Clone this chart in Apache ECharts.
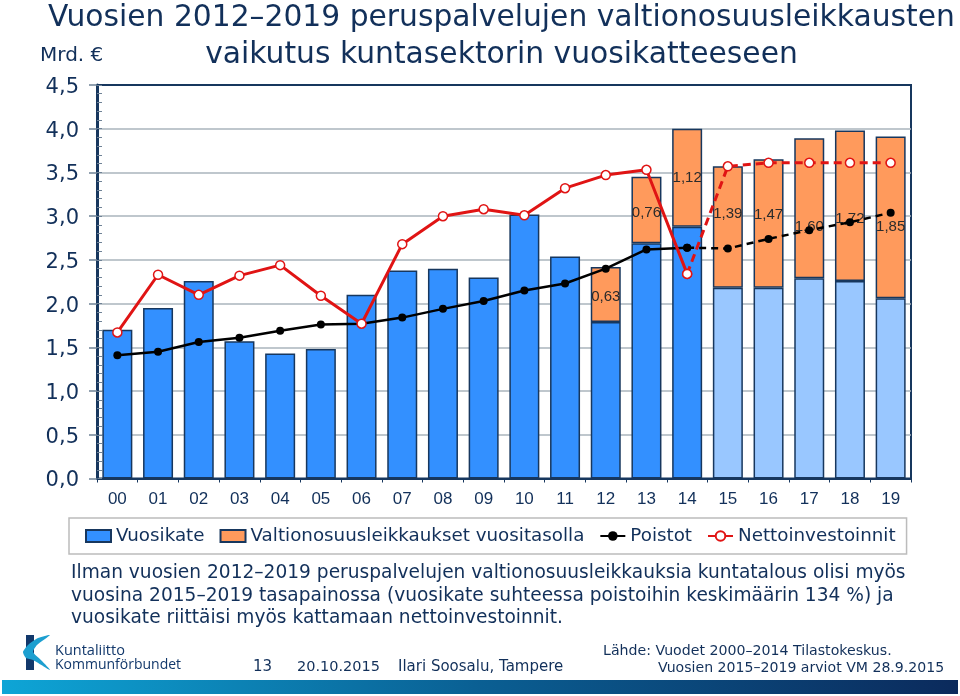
<!DOCTYPE html>
<html>
<head lang="fi">
    <meta charset="UTF-8">
    <title>Vuosikate ja valtionosuusleikkaukset</title>
    <style>
        html, body { margin: 0; padding: 0; background: #fff; }
        #main { width: 960px; height: 696px; }
    </style>
</head>
<body>
<div id="main"></div>
<script src="https://cdn.jsdelivr.net/npm/echarts@6/dist/echarts.min.js"></script>
<script>
    var years = ['00','01','02','03','04','05','06','07','08','09','10','11','12','13','14','15','16','17','18','19'];
    var vuosikate = [1.70,1.95,2.26,1.57,1.43,1.48,2.10,2.38,2.40,2.30,3.02,2.54,1.79,2.69,2.88,2.18,2.18,2.29,2.26,2.06];
    var leikkaukset = [null,null,null,null,null,null,null,null,null,null,null,null,0.63,0.76,1.12,1.39,1.47,1.60,1.72,1.85];
    var poistot = [1.41,1.45,1.56,1.61,1.69,1.76,1.77,1.84,1.94,2.03,2.15,2.23,2.40,2.62,2.64,2.63,2.74,2.84,2.93,3.04];
    var netto = [1.67,2.33,2.10,2.32,2.44,2.09,1.77,2.68,3.00,3.08,3.01,3.32,3.47,3.53,2.34,3.57,3.61,3.61,3.61,3.61];
    var lastActual = 14;

    // labels do not sit in the middle of the bars in the original, nudged by hand (px)
    var labelNudge = {12: 2, 13: 3, 15: -13, 16: -9, 17: 19, 18: 13, 19: 9};

    var navy = '#17375e';
    var textBlue = '#12305a';
    var verdana = '"DejaVu Sans", Verdana, sans-serif';
    var arial = '"Liberation Sans", Arial, sans-serif';

    function comma(v) { return v.toFixed(2).replace('.', ','); }
    function upto(arr) { return arr.map(function (v, i) { return i <= lastActual ? v : null; }); }
    function from(arr) { return arr.map(function (v, i) { return i >= lastActual ? v : null; }); }

    function txt(text, x, y, size, align, color, family) {
        return {
            type: 'text', silent: true,
            style: {
                text: text, x: x, y: y, fontSize: size, fontFamily: family || verdana,
                fill: color || textBlue, textAlign: align || 'left', textVerticalAlign: 'middle'
            }
        };
    }

    var myChart = echarts.init(document.getElementById('main'), null, {renderer: 'canvas'});

    var option = {
        animation: false,
        backgroundColor: '#fff',
        grid: {left: 97, top: 85, width: 814, height: 393.5, show: true, borderColor: navy, borderWidth: 2, backgroundColor: 'transparent'},
        legend: {
            data: [
                {name: 'Vuosikate', icon: 'rect'},
                {name: 'Valtionosuusleikkaukset vuositasolla', icon: 'rect'},
                {name: 'Poistot'},
                {name: 'Nettoinvestoinnit'}
            ],
            left: 69, top: 518,
            padding: [9, 11, 9, 16],
            borderColor: '#bcbcbc', borderWidth: 1.5,
            itemGap: 15, itemWidth: 25, itemHeight: 12,
            textStyle: {fontFamily: verdana, fontSize: 18.3, color: textBlue}
        },
        xAxis: {
            type: 'category', data: years,
            axisLine: {lineStyle: {color: navy, width: 2}},
            axisTick: {show: true, length: 4, lineStyle: {color: navy}},
            axisLabel: {fontFamily: arial, fontSize: 17, color: textBlue, margin: 12},
            splitLine: {show: false}
        },
        yAxis: [{
            type: 'value', min: 0, max: 4.5, interval: 0.5,
            axisLine: {show: true, lineStyle: {color: navy, width: 3}},
            axisTick: {show: true, length: 8, lineStyle: {color: '#6f8296', width: 1.5}},
            axisLabel: {
                fontFamily: verdana, fontSize: 21, color: textBlue, margin: 18,
                verticalAlign: 'top', lineHeight: 5,
                formatter: function (v) { return v.toFixed(1).replace('.', ','); }
            },
            splitLine: {show: true, showMinLine: false, showMaxLine: false, lineStyle: {color: '#aab4bd', width: 1.5}}
        }, {
            // only for the small inside ticks along the left edge
            type: 'value', min: 0, max: 4.5, interval: 0.1, position: 'left',
            axisLine: {show: false},
            axisTick: {show: true, inside: true, length: 5, lineStyle: {color: '#6f8296', width: 1}},
            axisLabel: {show: false},
            splitLine: {show: false}
        }],
        series: [{
            name: 'Vuosikate', type: 'bar', stack: 'a', barWidth: 30,
            itemStyle: {color: '#3390ff', borderColor: navy, borderWidth: 1.5},
            data: vuosikate.map(function (v, i) {
                return i > lastActual ? {value: v, itemStyle: {color: '#99c7ff'}} : v;
            })
        }, {
            name: 'Valtionosuusleikkaukset vuositasolla', type: 'bar', stack: 'a', barWidth: 30,
            itemStyle: {color: '#ff9a5c', borderColor: navy, borderWidth: 1.5},
            data: leikkaukset.map(function (v, i) {
                if (v === null) return null;
                return {
                    value: v,
                    label: {
                        show: true, position: 'inside', offset: [0, labelNudge[i] || 0],
                        formatter: comma(v), fontFamily: arial, fontSize: 15, color: '#2b2b2b'
                    }
                };
            })
        }, {
            name: 'Poistot', type: 'line', data: upto(poistot), z: 5,
            symbol: 'circle', symbolSize: 8,
            lineStyle: {color: '#000', width: 2.5},
            itemStyle: {color: '#000'}
        }, {
            name: 'Poistot ennuste', type: 'line', data: from(poistot), z: 5,
            symbol: 'circle', symbolSize: 8,
            lineStyle: {color: '#000', width: 2.5, type: [7, 5]},
            itemStyle: {color: '#000'}
        }, {
            name: 'Nettoinvestoinnit', type: 'line', data: upto(netto), z: 6,
            symbol: 'circle', symbolSize: 9,
            lineStyle: {color: '#e01414', width: 3},
            itemStyle: {color: '#fff', borderColor: '#e01414', borderWidth: 1.5}
        }, {
            name: 'Nettoinvestoinnit ennuste', type: 'line', data: from(netto), z: 6,
            symbol: 'circle', symbolSize: 9,
            lineStyle: {color: '#e01414', width: 3, type: [8, 5]},
            itemStyle: {color: '#fff', borderColor: '#e01414', borderWidth: 1.5}
        }],
        graphic: [
            txt('Vuosien 2012–2019 peruspalvelujen valtionosuusleikkausten', 501.5, 18, 29.75, 'center'),
            txt('vaikutus kuntasektorin vuosikatteeseen', 501.5, 55, 29.75, 'center'),
            txt('Mrd. €', 40, 56, 20),
            txt('Ilman vuosien 2012–2019 peruspalvelujen valtionosuusleikkauksia kuntatalous olisi myös', 71, 573.5, 18.6),
            txt('vuosina 2015–2019 tasapainossa (vuosikate suhteessa poistoihin keskimäärin 134 %) ja', 71, 596.5, 18.6),
            txt('vuosikate riittäisi myös kattamaan nettoinvestoinnit.', 71, 618, 18.6),
            txt('13', 253, 667, 15),
            txt('20.10.2015', 297, 667, 14.5),
            txt('Ilari Soosalu, Tampere', 398, 667, 15),
            txt('Lähde: Vuodet 2000–2014 Tilastokeskus.', 603, 651, 14.15),
            txt('Vuosien 2015–2019 arviot VM 28.9.2015', 658, 668, 14.1),
            // logo
            {type: 'rect', silent: true, shape: {x: 26, y: 635, width: 8, height: 35}, style: {fill: '#12386b'}},
            {type: 'polygon', silent: true, shape: {points: [[50,635],[38,638],[28,645],[23,652],[26,658],[33,660],[50,670],[42,661],[33,652],[37,645]], smooth: 0.2}, style: {fill: '#1c9fd0'}},
            txt('Kuntaliitto', 55, 651, 14.5, 'left', '#12386b', '"Open Sans", sans-serif'),
            txt('Kommunförbundet', 55, 665, 14, 'left', '#12386b', '"Open Sans", sans-serif'),
            // band at the bottom
            {
                type: 'rect', silent: true, shape: {x: 2, y: 680, width: 956, height: 14},
                style: {fill: new echarts.graphic.LinearGradient(0, 0, 1, 0, [
                    {offset: 0, color: '#0ea5d6'},
                    {offset: 0.5, color: '#0a5f93'},
                    {offset: 1, color: '#0b2a5c'}
                ])}
            }
        ]
    };

    myChart.setOption(option);
</script>
</body>
</html>
